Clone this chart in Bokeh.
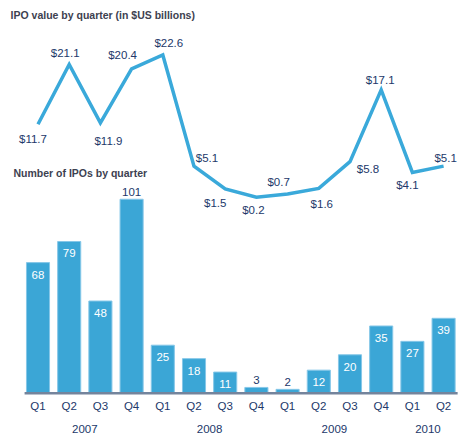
from bokeh.plotting import figure
from bokeh.models import Range1d, LinearAxis, FixedTicker, ColumnDataSource, Label
from bokeh.core.properties import value
from bokeh.embed import file_html
from bokeh.resources import INLINE

# ---- data ----
quarters = ["Q1", "Q2", "Q3", "Q4", "Q1", "Q2", "Q3", "Q4", "Q1", "Q2", "Q3", "Q4", "Q1", "Q2"]
years = ["2007", "2008", "2009", "2010"]
year_counts = [4, 4, 4, 2]
ipo_value = [11.7, 21.1, 11.9, 20.4, 22.6, 5.1, 1.5, 0.2, 0.7, 1.6, 5.8, 17.1, 4.1, 5.1]
ipo_count = [68, 79, 48, 101, 25, 18, 11, 3, 2, 12, 20, 35, 27, 39]

# ---- styling ----
# label offsets (screen px) for the line labels
val_dx = [-5, -4, 8, -9, 6, 13, -10, -3, -9, 3, 18, -1, -5, 2]
val_dy = [15, -12, 18, -14, -12, -8, 14, 13, -12, 16, 7, -10, 13, -8]
# bar label inside (True) or above (False)
count_inside = [True, True, True, False, True, True, True, False, False, True, True, True, True, True]

BAR = "#3BA6D6"
LINE = "#3AA9DA"
NAVY = "#22386A"
TITLE = "#3D4150"
FONT = "Liberation Sans"

x = list(range(len(quarters)))

p = figure(width=461, height=437, output_backend="svg", toolbar_location=None,
           x_range=Range1d(-1.202, 13.574), y_range=Range1d(-1.2, 204.5),
           min_border_left=0, min_border_right=0, min_border_top=0, min_border_bottom=42)
p.outline_line_color = None
p.background_fill_color = "white"
p.border_fill_color = "white"
p.grid.visible = False
p.xaxis.visible = False
p.yaxis.visible = False
p.extra_y_ranges = {"val": Range1d(-31.02, 31.18)}

# bars
src = ColumnDataSource(dict(x=x, n=ipo_count, v=ipo_value))
p.vbar(x="x", top="n", bottom=0, width=0.74, source=src,
       fill_color=BAR, line_color="#86C7E8", line_width=1)

# baseline
p.segment(x0=[x[0] - 0.43], x1=[x[-1] + 0.45], y0=[0], y1=[0],
          line_color="#74849C", line_width=2.5)

# bar labels
in_x = [xi for xi, f in zip(x, count_inside) if f]
in_n = [n for n, f in zip(ipo_count, count_inside) if f]
out_x = [xi for xi, f in zip(x, count_inside) if not f]
out_n = [n for n, f in zip(ipo_count, count_inside) if not f]
p.text(x=in_x, y=in_n, text=[str(n) for n in in_n], text_color="white",
       text_font=value(FONT), text_font_size="11.5px", text_align="center",
       text_baseline="middle", y_offset=12)
p.text(x=out_x, y=out_n, text=[str(n) for n in out_n], text_color=NAVY,
       text_font=value(FONT), text_font_size="11.5px", text_align="center",
       text_baseline="middle", y_offset=-7)

# value line
p.line(x="x", y="v", source=src, y_range_name="val", line_color=LINE,
       line_width=3.5, line_join="miter")
p.text(x=x, y=ipo_value, text=["$%.1f" % v for v in ipo_value], y_range_name="val",
       x_offset=val_dx, y_offset=val_dy, text_color=NAVY, text_font=value(FONT),
       text_font_size="11.5px", text_align="center", text_baseline="middle")

# titles
p.add_layout(Label(x=-0.88, y=197.2, text="IPO value by quarter (in $US billions)",
                   text_font=FONT, text_font_size="10.5px", text_color=TITLE,
                   text_align="left", text_baseline="middle", text_font_style="bold"))
p.add_layout(Label(x=-0.785, y=114.9, text="Number of IPOs by quarter",
                   text_font=FONT, text_font_size="10.5px", text_color=TITLE,
                   text_align="left", text_baseline="middle", text_font_style="bold"))

# quarter axis
qax = LinearAxis(ticker=FixedTicker(ticks=x),
                 major_label_overrides={i: q for i, q in zip(x, quarters)})
# year axis
centers = []
start = 0
for c in year_counts:
    centers.append(start + (c - 1) / 2)
    start += c
yax = LinearAxis(ticker=FixedTicker(ticks=centers),
                 major_label_overrides={c: y for c, y in zip(centers, years)})
for ax, so in ((qax, 4), (yax, 10)):
    ax.axis_line_color = None
    ax.major_tick_line_color = None
    ax.minor_tick_line_color = None
    ax.major_tick_out = 0
    ax.major_tick_in = 0
    ax.major_label_standoff = so
    ax.major_label_text_font = FONT
    ax.major_label_text_font_size = "11.5px"
    ax.major_label_text_color = NAVY
p.add_layout(qax, "below")
p.add_layout(yax, "below")

open("out.html", "w").write(file_html(p, INLINE))
